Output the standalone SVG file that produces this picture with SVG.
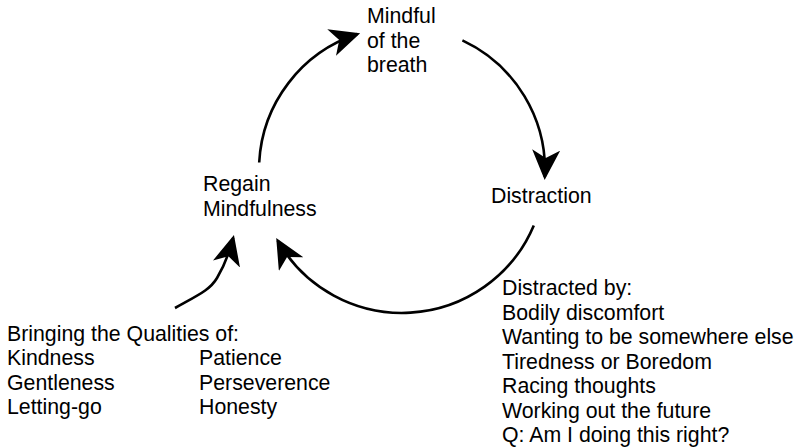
<svg xmlns="http://www.w3.org/2000/svg" width="798" height="447" viewBox="0 0 798 447">
<style>
  text { font-family: "Liberation Sans", Arial, sans-serif; font-size: 21.3px; fill: #000; }
  .conn { fill: none; stroke: #000; stroke-width: 2.6; marker-end: url(#stealth); }
</style>
<defs>
  <marker id="stealth" viewBox="0 0 30 28" refX="27" refY="14" markerWidth="30" markerHeight="28" markerUnits="userSpaceOnUse" orient="auto">
    <path d="M0,0 L30,14 L0,28 L8,14 Z" fill="#000"/>
  </marker>
</defs>
<rect width="798" height="447" fill="#fff"/>
<g id="connectors">
  <path class="conn" d="M259.2,162.5 A143,143 0 0 1 357.3,34.1"/>
  <path class="conn" d="M462.4,40.4 A143,143 0 0 1 544.8,177"/>
  <path class="conn" d="M533.8,225.4 A143,143 0 0 1 277.7,240.6"/>
  <path class="conn" d="M175,308 C198,295 210,290 217,278 C223,268 228,258 233.2,237.9"/>
</g>
<g id="node-mindful">
  <text x="367" y="23"><tspan x="367">Mindful</tspan><tspan x="367" dy="24.5">of the</tspan><tspan x="367" dy="24.5">breath</tspan></text>
</g>
<g id="node-distraction">
  <text x="491" y="203">Distraction</text>
</g>
<g id="node-regain">
  <text x="203" y="191"><tspan x="203">Regain</tspan><tspan x="203" dy="24.5">Mindfulness</tspan></text>
</g>
<g id="node-distracted-by">
  <text x="502" y="295"><tspan x="502">Distracted by:</tspan><tspan x="502" dy="24.5">Bodily discomfort</tspan><tspan x="502" dy="24.5">Wanting to be somewhere else</tspan><tspan x="502" dy="24.5">Tiredness or Boredom</tspan><tspan x="502" dy="24.5">Racing thoughts</tspan><tspan x="502" dy="24.5">Working out the future</tspan><tspan x="502" dy="24.5">Q: Am I doing this right?</tspan></text>
</g>
<g id="node-qualities">
  <text x="7" y="340.5"><tspan x="7">Bringing the Qualities of:</tspan><tspan x="7" dy="24.5">Kindness</tspan><tspan x="7" dy="24.5">Gentleness</tspan><tspan x="7" dy="24.5">Letting-go</tspan></text>
  <text x="199" y="365"><tspan x="199">Patience</tspan><tspan x="199" dy="24.5">Perseverence</tspan><tspan x="199" dy="24.5">Honesty</tspan></text>
</g>
</svg>
